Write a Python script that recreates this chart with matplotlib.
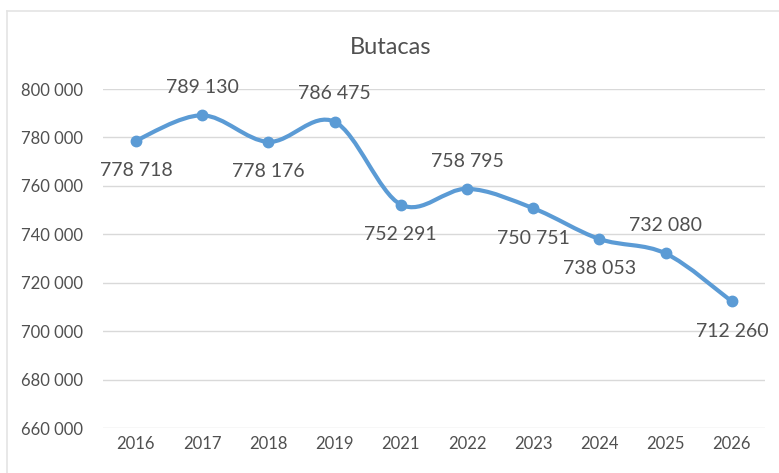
import matplotlib
matplotlib.use("Agg")
import matplotlib.pyplot as plt
from matplotlib.path import Path
from matplotlib.patches import PathPatch
import numpy as np

# data
YEARS = ["2016", "2017", "2018", "2019", "2021", "2022", "2023", "2024", "2025", "2026"]
BUTACAS = [778718, 789130, 778176, 786475, 752291, 758795, 750751, 738053, 732080, 712260]
LABEL_SIDE = ["below", "above", "below", "above", "below", "above", "below", "below", "above", "below"]

BLUE = "#5B9BD5"
TEXT = "#505050"
GRID = "#D9D9D9"

plt.rcParams["font.family"] = ["Lato", "DejaVu Sans"]


def fmt(v):
    return f"{v:,}".replace(",", " ")


def smooth_path(xs, ys):
    # Excel-style smoothed line: cubic Bezier with Catmull-Rom control points
    pts = np.column_stack([xs, ys]).astype(float)
    n = len(pts)
    verts = [pts[0]]
    codes = [Path.MOVETO]
    for i in range(n - 1):
        p0 = pts[max(i - 1, 0)]
        p1 = pts[i]
        p2 = pts[i + 1]
        p3 = pts[min(i + 2, n - 1)]
        c1 = p1 + (p2 - p0) / 6.0
        c2 = p2 - (p3 - p1) / 6.0
        verts += [c1, c2, p2]
        codes += [Path.CURVE4] * 3
    return Path(verts, codes)


fig = plt.figure(figsize=(7.79, 4.73), dpi=100)
ax = fig.add_axes([0.132, 0.0951, 0.850, 0.7167])

x = np.arange(len(YEARS))
ax.add_patch(PathPatch(smooth_path(x, BUTACAS), fill=False, edgecolor=BLUE,
                       lw=3.0, capstyle="round", joinstyle="round", zorder=3))
ax.plot(x, BUTACAS, "o", color=BLUE, ms=7.5, zorder=4)

for xi, v, side in zip(x, BUTACAS, LABEL_SIDE):
    dy = 20 if side == "above" else -21.5
    ax.annotate(fmt(v), (xi, v), xytext=(0, dy), textcoords="offset points",
                ha="center", va="center", fontsize=14, color=TEXT, zorder=5)

ax.set_xlim(-0.5, len(YEARS) - 0.5)
ax.set_ylim(660000, 800000)
ax.set_yticks(range(660000, 800001, 20000))
ax.set_yticklabels([fmt(t) for t in range(660000, 800001, 20000)])
ax.set_xticks(x)
ax.set_xticklabels(YEARS)
ax.tick_params(axis="both", length=0, labelsize=12, labelcolor=TEXT)
ax.tick_params(axis="y", pad=14)
ax.tick_params(axis="x", pad=6)
ax.grid(axis="y", color=GRID, lw=1)
ax.set_axisbelow(True)
for s in ax.spines.values():
    s.set_visible(False)

fig.text(0.502, 0.90, "Butacas", ha="center", va="center", fontsize=17, color=TEXT)

# faint chart-area border (top and left visible in the reference)
fig.add_artist(plt.Line2D([0.009, 1.0], [0.977, 0.977], color="#E4E4E4", lw=1.2))
fig.add_artist(plt.Line2D([0.009, 0.009], [0.0, 0.977], color="#E4E4E4", lw=1.2))

fig.savefig("out.png", dpi=100)
